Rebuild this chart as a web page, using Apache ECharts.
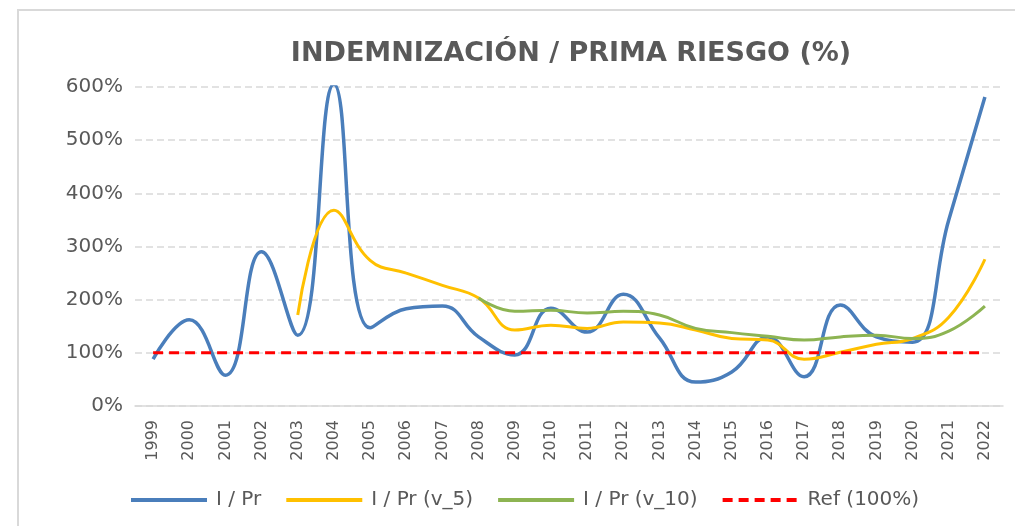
<!DOCTYPE html>
<html>
<head>
<meta charset="utf-8">
<script src="https://cdn.jsdelivr.net/npm/echarts@6/dist/echarts.min.js"></script>
<style>
html,body{margin:0;padding:0;background:#fff;}
#c{width:1015px;height:526px;}
</style>
</head>
<body>
<div id="c"></div>
<script>
const years = ['1999','2000','2001','2002','2003','2004','2005','2006','2007','2008','2009','2010','2011','2012','2013','2014','2015','2016','2017','2018','2019','2020','2021','2022'];
const ipr = [88,162,58,290,133,605,147,183,188,130,96,184,139,210,128,45,64,130,55,190,130,120,350,581];
const ipr5 = [null,null,null,null,171,368,274,250,227,203,143,152,146,158,156,143,127,124,88,101,116,127,167,276];
const ipr10 = [null,null,null,null,null,null,null,null,null,203,178,180,175,178,171,146,138,131,124,130,133,127,141,188];
const ref = [100,100,100,100,100,100,100,100,100,100,100,100,100,100,100,100,100,100,100,100,100,100,100,100];
const yTicks = [0,100,200,300,400,500,600];

const chart = echarts.init(document.getElementById('c'));
const txt = '#595959';
chart.setOption({
  backgroundColor: '#fff',
  animation: false,
  graphic: [{
    type: 'rect', shape: {x: 18, y: 10, width: 1100, height: 600},
    style: {fill: 'none', stroke: '#d9d9d9', lineWidth: 2}, silent: true
  }],
  title: {
    text: 'INDEMNIZACIÓN / PRIMA RIESGO (%)',
    left: 566, top: 35, textAlign: 'center',
    textStyle: {fontFamily: 'DejaVu Sans', fontWeight: 'bold', fontSize: 27, color: txt}
  },
  legend: {
    left: 124, top: 485, itemWidth: 76, itemHeight: 14, itemGap: 23,
    itemStyle: {opacity: 0},
    lineStyle: {width: 4},
    textStyle: {fontFamily: 'DejaVu Sans', fontSize: 20, color: txt, padding: [0,0,0,4]},
    data: ['I / Pr', 'I / Pr (v_5)', 'I / Pr (v_10)', 'Ref (100%)']
  },
  grid: {left: 135, right: 12, top: 87, bottom: 120},
  xAxis: {
    type: 'category', data: years, boundaryGap: true,
    axisLine: {lineStyle: {color: '#d9d9d9', width: 1.5}},
    axisTick: {inside: true, length: 5, lineStyle: {color: '#d9d9d9', width: 1.5}},
    axisLabel: {rotate: 90, margin: 14, fontFamily: 'DejaVu Sans', fontSize: 16, color: txt, interval: 0}
  },
  yAxis: {
    type: 'value', min: yTicks[0], max: yTicks[yTicks.length-1], interval: 100,
    axisLine: {show: false}, axisTick: {show: false},
    axisLabel: {formatter: '{value}%', margin: 12, fontFamily: 'DejaVu Sans', fontSize: 20, color: txt},
    splitLine: {lineStyle: {color: '#d9d9d9', width: 1.5, type: [7,4]}}
  },
  series: [
    {name: 'I / Pr', type: 'line', data: ipr, smooth: 0.45, symbol: 'none', clip: true,
      lineStyle: {color: '#4A7EBB', width: 3.5}, itemStyle: {color: '#4A7EBB'}, z: 2},
    {name: 'I / Pr (v_5)', type: 'line', data: ipr5, smooth: 0.45, symbol: 'none',
      lineStyle: {color: '#FFC000', width: 3}, itemStyle: {color: '#FFC000'}, z: 3},
    {name: 'I / Pr (v_10)', type: 'line', data: ipr10, smooth: 0.45, symbol: 'none',
      lineStyle: {color: '#8DB452', width: 3}, itemStyle: {color: '#8DB452'}, z: 4},
    {name: 'Ref (100%)', type: 'line', data: ref, symbol: 'none',
      lineStyle: {color: '#FF0000', width: 3, type: [10,6]}, itemStyle: {color: '#FF0000'}, z: 5}
  ]
});
</script>
</body>
</html>
